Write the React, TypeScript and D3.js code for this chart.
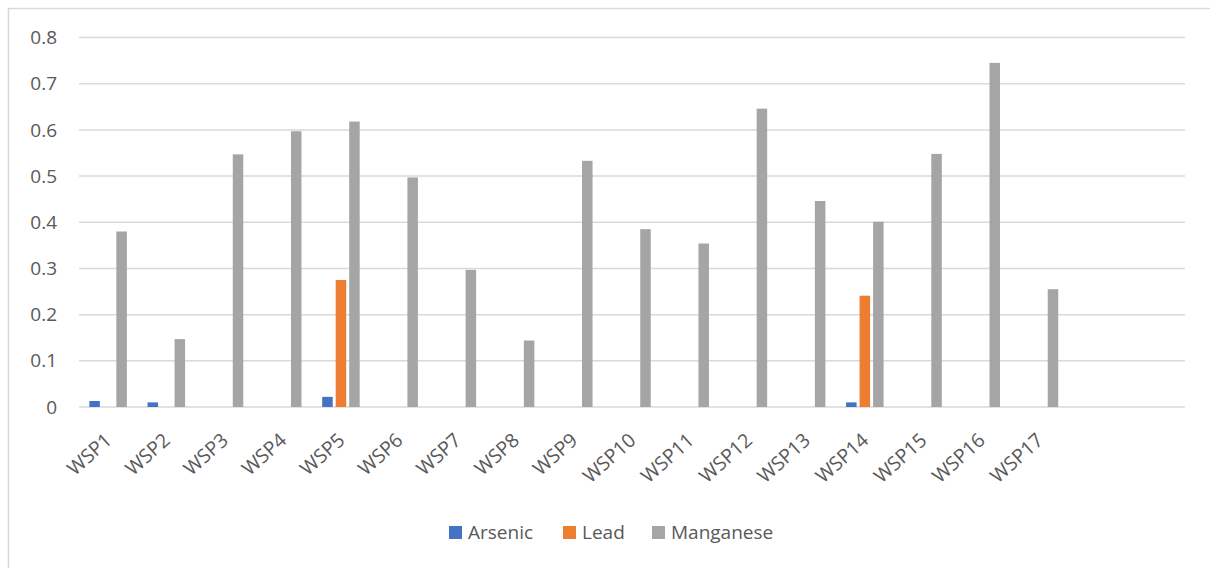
import React from "react";
import * as d3 from "d3";

const categories = ["WSP1","WSP2","WSP3","WSP4","WSP5","WSP6","WSP7","WSP8","WSP9","WSP10","WSP11","WSP12","WSP13","WSP14","WSP15","WSP16","WSP17"];
const emptySlots = ["", ""]; // two blank category rows on the axis
const arsenic = [0.013,0.010,0,0,0.022,0,0,0,0,0,0,0,0,0.010,0,0,0];
const lead = [0,0,0,0,0.275,0,0,0,0,0,0,0,0,0.241,0,0,0];
const manganese = [0.38,0.147,0.547,0.597,0.618,0.497,0.297,0.144,0.533,0.385,0.354,0.646,0.446,0.401,0.548,0.745,0.255];
const seriesNames = ["Arsenic","Lead","Manganese"];
const seriesColors = ["#4472C4","#ED7D31","#A5A5A5"];
const yTicks = [0,0.1,0.2,0.3,0.4,0.5,0.6,0.7,0.8];

export default function App() {
  const W = 1210, H = 568;
  const left = 79, right = 1185, top = 37.5, bottom = 407;
  const slotKeys = [...categories, ...emptySlots.map((_, i) => `__empty${i}`)];
  const x = d3.scaleBand<string>().domain(slotKeys).range([left, right]).paddingInner(0).paddingOuter(0);
  const y = d3.scaleLinear().domain([0, 0.8]).range([bottom, top]);
  const series = [arsenic, lead, manganese];
  const barW = 10.5, step = 13.5;
  const font = "'Open Sans', 'Liberation Sans', sans-serif";
  const textColor = "#595959";

  const legendItems = [
    { name: seriesNames[0], sx: 449, tx: 468 },
    { name: seriesNames[1], sx: 563, tx: 582 },
    { name: seriesNames[2], sx: 652, tx: 671 },
  ];

  return (
    <svg width={W} height={H} style={{ position: "absolute", left: 0, top: 0, display: "block" }}>
      <rect x={0} y={0} width={W} height={H} fill="#fff" />
      <rect x={8.5} y={8.5} width={W + 20} height={H + 20} fill="#fff" stroke="#d9d9d9" strokeWidth={1.5} />
      {yTicks.map((t) => (
        <g key={t}>
          <line x1={left} x2={right} y1={y(t)} y2={y(t)} stroke="#d9d9d9" strokeWidth={1.5} />
          <text x={57} y={y(t)} dy="0.35em" textAnchor="end" fontFamily={font} fontSize={19} fill={textColor}>
            {d3.format("")(t)}
          </text>
        </g>
      ))}
      {series.map((vals, si) =>
        vals.map((v, ci) => {
          if (!v) return null;
          const cx = (x(categories[ci]) as number) + x.bandwidth() / 2 + (si - 1) * step;
          return (
            <rect key={`${si}-${ci}`} x={cx - barW / 2} y={y(v)} width={barW} height={y(0) - y(v)} fill={seriesColors[si]} />
          );
        })
      )}
      {categories.map((c) => {
        const cx = (x(c) as number) + x.bandwidth() / 2;
        return (
          <text key={c} transform={`translate(${cx + 5},${442}) rotate(-42)`} textAnchor="end" fontFamily={font} fontSize={19.5} fill={textColor}>
            {c}
          </text>
        );
      })}
      {legendItems.map((it, i) => (
        <g key={it.name}>
          <rect x={it.sx} y={526} width={13} height={13} fill={seriesColors[i]} />
          <text x={it.tx} y={532.5} dy="0.35em" fontFamily={font} fontSize={19} fill={textColor}>{it.name}</text>
        </g>
      ))}
    </svg>
  );
}
